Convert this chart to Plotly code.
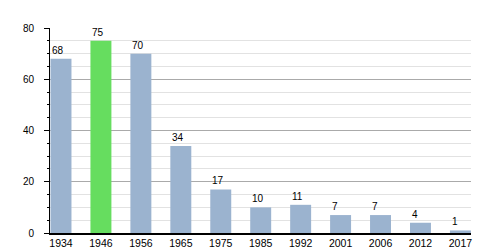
import plotly.graph_objects as go

years = ["1934", "1946", "1956", "1965", "1975", "1985", "1992", "2001", "2006", "2012", "2017"]
values = [68, 75, 70, 34, 17, 10, 11, 7, 7, 4, 1]
highlight = "1946"

colors = ["#66dd5f" if y == highlight else "#9bb3cf" for y in years]

fig = go.Figure(go.Bar(x=years, y=values, marker=dict(color=colors, line=dict(width=0)),
                       width=0.525, hoverinfo="skip"))

for i, v in enumerate(values):
    fig.add_annotation(x=i, y=v, text=str(v), showarrow=False, xanchor="left", yanchor="bottom",
                       xshift=-10.5, yshift=1, font=dict(size=10, color="#000", family="Liberation Sans, Arial"))

fig.update_layout(
    width=500, height=250, margin=dict(l=50, r=29, t=28, b=17),
    paper_bgcolor="white", plot_bgcolor="white", showlegend=False,
    font=dict(family="Liberation Sans, Arial", size=10, color="#000"),
)
fig.update_xaxes(type="category", range=[-0.275, 10.265], showline=True, linecolor="#000", linewidth=1.5,
                 ticks="", showgrid=False, tickfont=dict(size=10.5), ticklabelstandoff=0, automargin=False)
fig.update_yaxes(range=[0, 80], dtick=20, showline=True, linecolor="#000", linewidth=1,
                 ticks="outside", ticklen=5, tickcolor="#000", ticklabelstandoff=8, automargin=False,
                 showgrid=True, gridcolor="#aaaaaa", gridwidth=1, zeroline=False,
                 minor=dict(dtick=5, ticks="outside", ticklen=2, tickcolor="#000", showgrid=True,
                            gridcolor="#e2e2e2", gridwidth=1))

fig.write_html("out.html")
